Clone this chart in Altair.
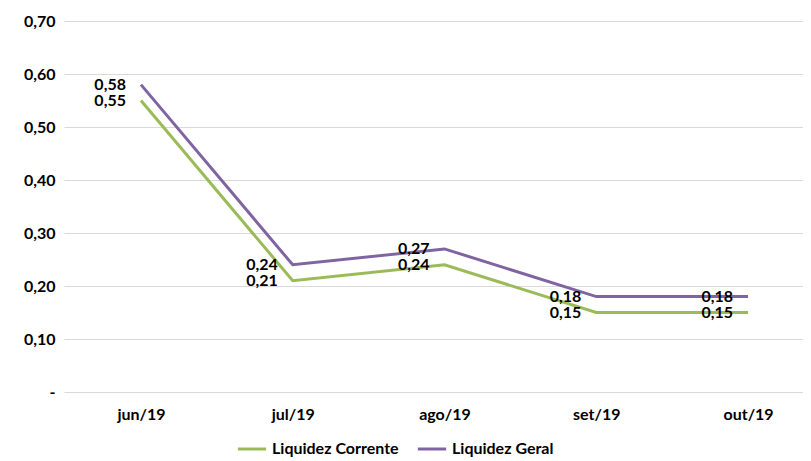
import json
import altair as alt
import pandas as pd

months = ["jun/19", "jul/19", "ago/19", "set/19", "out/19"]
corrente = [0.55, 0.21, 0.24, 0.15, 0.15]
geral = [0.58, 0.24, 0.27, 0.18, 0.18]
series_names = ["Liquidez Corrente", "Liquidez Geral"]
colors = ["#9BBB59", "#8064A2"]
y_ticks = [0, 0.1, 0.2, 0.3, 0.4, 0.5, 0.6, 0.7]

rows = []
for name, vals in zip(series_names, [corrente, geral]):
    for i, (m, v) in enumerate(zip(months, vals)):
        rows.append({"idx": i, "month": m, "serie": name, "value": v,
                     "label": f"{v:.2f}".replace(".", ",")})
df = pd.DataFrame(rows)

FONT = "Lato"
FS = 16
label_expr_x = json.dumps(months) + "[datum.value]"

x = alt.X("idx:Q",
          scale=alt.Scale(domain=[-0.507, 4.362], nice=False, zero=False),
          axis=alt.Axis(values=list(range(len(months))), labelExpr=label_expr_x,
                        title=None, grid=False, ticks=False, domain=False,
                        labelFont=FONT, labelFontSize=FS, labelFontWeight="bold",
                        labelColor="#000000", labelPadding=14))
y = alt.Y("value:Q",
          scale=alt.Scale(domain=[0, 0.7], nice=False),
          axis=alt.Axis(values=y_ticks, title=None, ticks=False, domain=False,
                        labelExpr="datum.value == 0 ? '-' : replace(format(datum.value, '.2f'), '.', ',')",
                        labelFont=FONT, labelFontSize=FS, labelFontWeight="bold",
                        labelColor="#000000", labelPadding=9,
                        gridColor="#d9d9d9", gridWidth=1))

color = alt.Color("serie:N",
                  scale=alt.Scale(domain=series_names, range=colors),
                  legend=alt.Legend(title=None, orient="none", direction="horizontal",
                                    legendX=172, legendY=412,
                                    symbolType="stroke", symbolSize=800,
                                    symbolStrokeWidth=3, labelFont=FONT,
                                    labelFontSize=FS, labelFontWeight="bold",
                                    labelColor="#000000", labelOffset=4,
                                    columnPadding=12))

lines = alt.Chart(df).mark_line(strokeWidth=3).encode(x=x, y=y, color=color)
texts = alt.Chart(df).mark_text(align="right", baseline="middle", dx=-15,
                                font=FONT, fontSize=FS, fontWeight="bold",
                                color="#000000").encode(
    x="idx:Q", y="value:Q", text="label:N")

chart = (lines + texts).properties(
    width=739, height=371,
    autosize=alt.AutoSizeParams(type="none"),
    padding={"left": 56, "top": 13, "right": 0, "bottom": 66},
).configure_view(stroke=None)

chart.save("out.html", embed_options={"renderer": "svg", "actions": False})
